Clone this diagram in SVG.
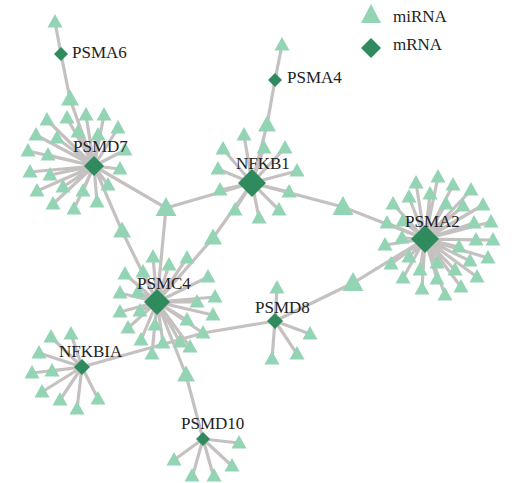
<svg xmlns="http://www.w3.org/2000/svg" xmlns:xlink="http://www.w3.org/1999/xlink" width="515" height="483" viewBox="0 0 515 483">
<style>
.e{stroke:#c5c1c1;stroke-width:3.2;fill:none;stroke-linecap:round}
.t{fill:#93d4b4}
.m{fill:#2f8b5e}
.l{font-family:"Liberation Serif","Times New Roman",serif;font-size:17px;fill:#222}
</style>
<defs>
<path id="t" d="M0,-8 L7.5,5.5 L-7.5,5.5Z"/>
<path id="tm" d="M0,-9.5 L9,6.5 L-9,6.5Z"/>
<path id="tb" d="M0,-11 L10.5,8 L-10.5,8Z"/>
</defs>
<rect width="515" height="483" fill="#fff"/>
<g id="connectors" class="e">
<path d="M61,54L55,22M61,54L70,99L94,166M275,80L282,45M275,80L267,125L252,183"/>
<path d="M94,166L47,120M94,166L67,118M94,166L86,115M94,166L104,115M94,166L118,128M94,166L36,135M94,166L57,138M94,166L78,132M94,166L98,135M94,166L28,151M94,166L48,155M94,166L125,150M94,166L30,172M94,166L50,175M94,166L63,187M94,166L37,191M94,166L83,191M94,166L108,185M94,166L120,169M94,166L53,204M94,166L74,209M94,166L97,202M94,166L166,208L252,183M94,166L122,231L157,302M166,208L157,302"/>
<path d="M252,183L223,149M252,183L244,135M252,183L264,148M252,183L285,148M252,183L218,169M252,183L297,171M252,183L220,190M252,183L289,192M252,183L235,210M252,183L279,210M252,183L259,218M252,183L343,207L425,239M252,183L213,238L157,302"/>
<path d="M425,239L438,177M425,239L416,183M425,239L453,185M425,239L471,190M425,239L409,197M425,239L430,194M425,239L393,204M425,239L446,204M425,239L463,206M425,239L483,205M425,239L387,223M425,239L403,221M425,239L474,223M425,239L491,222M425,239L385,245M425,239L402,238M425,239L476,240M425,239L493,240M425,239L459,247M425,239L409,257M425,239L391,264M425,239L437,263M425,239L470,261M425,239L488,258M425,239L420,270M425,239L455,270M425,239L403,278M425,239L437,279M425,239L477,277M425,239L422,289M425,239L461,287M425,239L445,295M425,239L353,283L275,321"/>
<path d="M157,302L153,257M157,302L169,265M157,302L187,258M157,302L125,274M157,302L143,272M157,302L208,277M157,302L120,293M157,302L138,292M157,302L215,297M157,302L197,302M157,302L120,312M157,302L140,311M157,302L213,315M157,302L187,320M157,302L128,328M157,302L155,325M157,302L203,333M157,302L141,340M157,302L163,343M157,302L180,342M157,302L190,347M157,302L152,354M157,302L186,375L203,439"/>
<path d="M275,321L277,288M275,321L310,334M275,321L297,354M275,321L272,359M275,321L203,333L82,367"/>
<path d="M82,367L51,337M82,367L71,334M82,367L39,353M82,367L32,373M82,367L52,371M82,367L42,392M82,367L60,400M82,367L77,409M82,367L98,399"/>
<path d="M203,439L239,443M203,439L174,460M203,439L232,466M203,439L192,478M203,439L214,478"/>
</g>
<g id="mirna" class="t">
<use href="#t" x="55" y="22"/><use href="#tm" x="70" y="99"/><use href="#t" x="282" y="45"/><use href="#tm" x="267" y="125"/>
<use href="#t" x="47" y="120"/><use href="#t" x="67" y="118"/><use href="#t" x="86" y="115"/><use href="#t" x="104" y="115"/><use href="#t" x="118" y="128"/><use href="#t" x="36" y="135"/><use href="#t" x="57" y="138"/><use href="#t" x="78" y="132"/><use href="#t" x="98" y="135"/><use href="#t" x="28" y="151"/><use href="#t" x="48" y="155"/><use href="#t" x="125" y="150"/><use href="#t" x="30" y="172"/><use href="#t" x="50" y="175"/><use href="#t" x="63" y="187"/><use href="#t" x="37" y="191"/><use href="#t" x="83" y="191"/><use href="#t" x="108" y="185"/><use href="#t" x="120" y="169"/><use href="#t" x="53" y="204"/><use href="#t" x="74" y="209"/><use href="#t" x="97" y="202"/>
<use href="#tb" x="166" y="208"/><use href="#tm" x="122" y="231"/><use href="#tb" x="343" y="207"/><use href="#tm" x="213" y="238"/><use href="#tb" x="353" y="283"/><use href="#tm" x="186" y="375"/>
<use href="#t" x="223" y="149"/><use href="#t" x="244" y="135"/><use href="#t" x="264" y="148"/><use href="#t" x="285" y="148"/><use href="#t" x="218" y="169"/><use href="#t" x="297" y="171"/><use href="#t" x="220" y="190"/><use href="#t" x="289" y="192"/><use href="#t" x="235" y="210"/><use href="#t" x="279" y="210"/><use href="#t" x="259" y="218"/>
<use href="#t" x="438" y="177"/><use href="#t" x="416" y="183"/><use href="#t" x="453" y="185"/><use href="#t" x="471" y="190"/><use href="#t" x="409" y="197"/><use href="#t" x="430" y="194"/><use href="#t" x="393" y="204"/><use href="#t" x="446" y="204"/><use href="#t" x="463" y="206"/><use href="#t" x="483" y="205"/><use href="#t" x="387" y="223"/><use href="#t" x="403" y="221"/><use href="#t" x="474" y="223"/><use href="#t" x="491" y="222"/><use href="#t" x="385" y="245"/><use href="#t" x="402" y="238"/><use href="#t" x="476" y="240"/><use href="#t" x="493" y="240"/><use href="#t" x="459" y="247"/><use href="#t" x="409" y="257"/><use href="#t" x="391" y="264"/><use href="#t" x="437" y="263"/><use href="#t" x="470" y="261"/><use href="#t" x="488" y="258"/><use href="#t" x="420" y="270"/><use href="#t" x="455" y="270"/><use href="#t" x="403" y="278"/><use href="#t" x="437" y="279"/><use href="#t" x="477" y="277"/><use href="#t" x="422" y="289"/><use href="#t" x="461" y="287"/><use href="#t" x="445" y="295"/>
<use href="#t" x="153" y="257"/><use href="#t" x="169" y="265"/><use href="#t" x="187" y="258"/><use href="#t" x="125" y="274"/><use href="#t" x="143" y="272"/><use href="#t" x="208" y="277"/><use href="#t" x="120" y="293"/><use href="#t" x="138" y="292"/><use href="#t" x="215" y="297"/><use href="#t" x="197" y="302"/><use href="#t" x="120" y="312"/><use href="#t" x="140" y="311"/><use href="#t" x="213" y="315"/><use href="#t" x="187" y="320"/><use href="#t" x="128" y="328"/><use href="#t" x="155" y="325"/><use href="#t" x="203" y="333"/><use href="#t" x="141" y="340"/><use href="#t" x="163" y="343"/><use href="#t" x="180" y="342"/><use href="#t" x="190" y="347"/><use href="#t" x="152" y="354"/>
<use href="#t" x="277" y="288"/><use href="#t" x="310" y="334"/><use href="#t" x="297" y="354"/><use href="#t" x="272" y="359"/>
<use href="#t" x="51" y="337"/><use href="#t" x="71" y="334"/><use href="#t" x="39" y="353"/><use href="#t" x="32" y="373"/><use href="#t" x="52" y="371"/><use href="#t" x="42" y="392"/><use href="#t" x="60" y="400"/><use href="#t" x="77" y="409"/><use href="#t" x="98" y="399"/>
<use href="#t" x="239" y="443"/><use href="#t" x="174" y="460"/><use href="#t" x="232" y="466"/><use href="#t" x="192" y="476"/><use href="#t" x="214" y="476"/>
</g>
<g id="PSMA6"><path class="m" d="M61,47L68,54L61,61L54,54Z"/><text class="l" x="72" y="58">PSMA6</text></g>
<g id="PSMA4"><path class="m" d="M275,73L282,80L275,87L268,80Z"/><text class="l" x="287" y="83">PSMA4</text></g>
<g id="PSMD7"><path class="m" d="M94,156L104,166L94,176L84,166Z"/><text class="l" x="73" y="152">PSMD7</text></g>
<g id="NFKB1"><path class="m" d="M252,169L266,183L252,197L238,183Z"/><text class="l" x="236" y="169">NFKB1</text></g>
<g id="PSMA2"><path class="m" d="M425,225L439,239L425,253L411,239Z"/><text class="l" x="405" y="227">PSMA2</text></g>
<g id="PSMC4"><path class="m" d="M157,289L170,302L157,315L144,302Z"/><text class="l" x="137" y="289">PSMC4</text></g>
<g id="PSMD8"><path class="m" d="M275,313L283,321L275,329L267,321Z"/><text class="l" x="255" y="313">PSMD8</text></g>
<g id="NFKBIA"><path class="m" d="M82,359L90,367L82,375L74,367Z"/><text class="l" x="59" y="357">NFKBIA</text></g>
<g id="PSMD10"><path class="m" d="M203,432L210,439L203,446L196,439Z"/><text class="l" x="181" y="429">PSMD10</text></g>
<g id="legend">
<path class="t" d="M371,4L381,23L361,23Z"/><text class="l" x="393" y="22">miRNA</text>
<path class="m" d="M371,38L381,48L371,58L361,48Z"/><text class="l" x="393" y="50">mRNA</text>
</g>
</svg>
